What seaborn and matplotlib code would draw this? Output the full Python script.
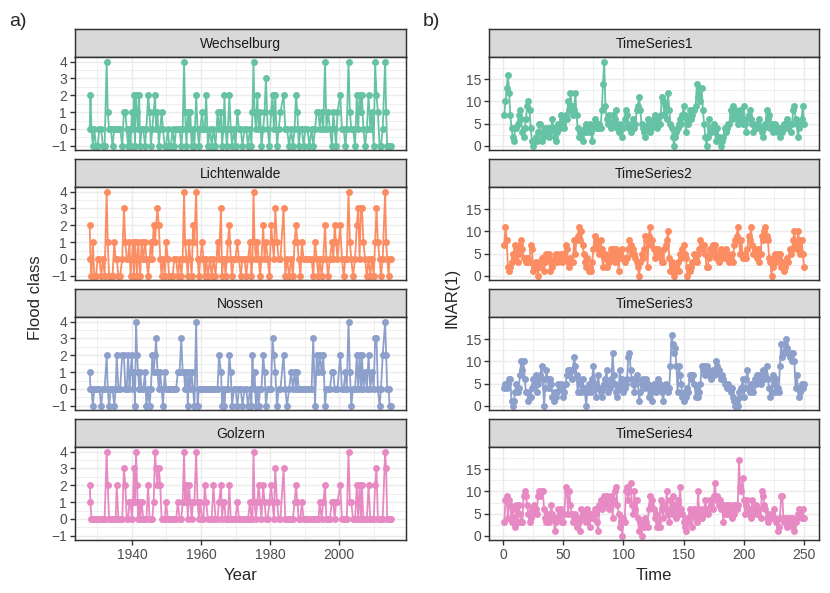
import matplotlib
matplotlib.use("Agg")
import matplotlib.pyplot as plt
from matplotlib.ticker import FixedLocator
import pandas as pd
import seaborn as sns

# ---- panel a): flood classes of events at four Mulde gauges ----
stations = ["Wechselburg", "Lichtenwalde", "Nossen", "Golzern"]

event_year = [
    1927.8, 1928.0, 1928.3, 1928.7, 1929.1, 1929.6, 1930.1, 1930.6, 1931.1, 1931.6,
    1932.1, 1932.7, 1933.0, 1933.4, 1933.9, 1934.4, 1934.9, 1935.3, 1935.6, 1936.1,
    1936.6, 1937.2, 1937.7, 1938.1, 1938.5, 1938.9, 1939.3, 1939.6, 1940.0, 1940.3,
    1940.6, 1940.9, 1941.2, 1941.5, 1941.8, 1942.1, 1942.4, 1942.8, 1943.3, 1943.8,
    1944.2, 1944.7, 1945.1, 1945.5, 1945.9, 1946.3, 1946.7, 1947.0, 1947.4, 1947.8,
    1948.2, 1948.6, 1949.0, 1949.5, 1949.9, 1950.4, 1950.8, 1951.3, 1951.8, 1952.3,
    1952.8, 1953.3, 1953.8, 1954.3, 1954.7, 1955.1, 1955.4, 1955.8, 1956.2, 1956.5,
    1956.9, 1957.3, 1957.7, 1958.1, 1958.6, 1959.0, 1959.4, 1959.8, 1960.3, 1960.7,
    1961.1, 1961.5, 1962.0, 1962.6, 1963.1, 1963.6, 1964.2, 1964.8, 1965.2, 1965.8,
    1966.1, 1966.5, 1966.8, 1967.1, 1967.5, 1967.8, 1968.2, 1968.6, 1969.0, 1969.5,
    1970.0, 1970.5, 1971.0, 1971.5, 1972.0, 1972.6, 1973.1, 1973.6, 1974.2, 1974.6,
    1974.9, 1975.2, 1975.5, 1975.9, 1976.3, 1976.7, 1977.1, 1977.5, 1978.0, 1978.4,
    1978.8, 1979.3, 1979.8, 1980.3, 1980.7, 1981.1, 1981.5, 1982.0, 1982.5, 1983.0,
    1983.9, 1984.4, 1984.9, 1985.5, 1986.1, 1986.6, 1987.1, 1987.5, 1987.9, 1988.3,
    1988.8, 1989.2, 1989.7, 1990.2, 1990.8, 1991.4, 1992.0, 1992.5, 1993.0, 1993.5,
    1994.0, 1994.4, 1994.9, 1995.4, 1995.9, 1996.3, 1996.8, 1997.3, 1997.9, 1998.3,
    1998.7, 1999.1, 1999.5, 2000.3, 2000.8, 2001.3, 2001.8, 2002.2, 2002.7, 2003.1,
    2003.5, 2004.0, 2004.6, 2005.1, 2005.5, 2005.9, 2006.3, 2006.6, 2007.0, 2007.5,
    2008.0, 2008.5, 2009.0, 2009.5, 2010.0, 2010.4, 2010.8, 2011.2, 2011.7, 2012.1,
    2012.6, 2013.3, 2013.6, 2013.9, 2014.3, 2014.6, 2014.9,
]

wechselburg = [
    0, 2, 0, -1, 0, -1, -1, 0, 0, -1,
    -1, 4, 1, 0, 0, -1, 0, 0, 0, 0,
    0, -1, 1, 1, 0, -1, 0, -1, 1, 0,
    2, -1, 2, 1, 0, 2, -1, 0, 0, -1,
    0, 2, 1, -1, 0, 1, 2, 0, 1, -1,
    0, 1, 0, -1, -1, 0, -1, -1, 0, -1,
    0, 0, 0, -1, 0, 4, 1, -1, 1, 0,
    1, -1, 0, -1, 2, 0, -1, 0, 1, 0,
    0, 2, -1, 0, -1, 0, -1, 1, 0, 1,
    -1, 0, 2, 0, -1, 0, 2, 0, -1, 0,
    -1, 1, 0, 0, -1, 0, 0, -1, 0, -1,
    1, 4, 1, 0, 2, 0, 1, -1, 0, 1,
    3, 0, -1, 1, 2, 0, 2, -1, 0, 1,
    2, 0, 0, -1, 0, -1, 0, 2, 1, -1,
    0, 0, -1, 0, 0, -1, 0, -1, 0, 1,
    1, 0, 1, 0, 4, 0, 1, 0, -1, 1,
    0, -1, 1, 2, 0, 0, -1, 0, 4, 1,
    0, 0, -1, 2, 0, 2, 1, 2, 0, -1,
    0, 2, 0, 1, -1, 4, 2, 1, -1, -1,
    0, 4, 1, -1, -1, -1, -1,
]

lichtenwalde = [
    2, 0, -1, 1, -1, -1, 0, 0, -1, 0,
    -1, 4, 1, -1, -1, -1, 1, 0, 0, -1,
    -1, 0, 3, 1, 0, 0, 1, -1, 0, 1,
    -1, 1, 0, -1, 1, 0, -1, 1, 0, 1,
    0, -1, 0, 1, 0, 2, 1, 2, 3, 2,
    0, -1, 0, -1, 1, 0, -1, -1, -1, 0,
    0, -1, 0, -1, 0, 4, 1, 0, -1, 1,
    0, -1, 2, 1, 4, 0, -1, 0, 1, 0,
    -1, 0, -1, 0, -1, 0, -1, 1, 0, 3,
    -1, 0, 0, -1, 0, 1, 2, 0, -1, 0,
    0, 1, 0, -1, 0, 0, -1, 0, 1, -1,
    0, 4, 1, 0, 1, 0, -1, 0, 2, 0,
    1, 0, -1, 2, 1, 0, 3, 1, 0, 0,
    3, -1, 0, -1, 0, -1, 1, 2, 1, 0,
    -1, 1, 0, 0, 0, 0, 0, -1, 1, 0,
    -1, 0, -1, 0, 2, 0, -1, 0, 1, 0,
    2, 1, 0, 2, 0, -1, 0, 0, 4, 1,
    0, -1, 0, 2, 3, 0, 3, 3, 1, 0,
    -1, 0, -1, 0, -1, 1, 3, 1, 0, -1,
    0, 4, 1, 0, -1, 0, 0,
]

nossen = [
    1, 0, 0, -1, 0, 0, 0, 0, -1, 0,
    0, 2, 0, -1, 0, 0, -1, 0, 2, 0,
    0, 2, 2, 0, 0, 2, 0, 1, 2, 0,
    1, -1, 4, 2, 1, 0, 1, 0, 0, 1,
    -1, 0, -1, 0, 2, 1, 2, 3, 1, 0,
    1, 0, -1, 1, 0, 0, 0, 0, 0, 0,
    0, 1, 1, 3, 1, 1, 0, 1, -1, 1,
    0, 1, 0, -1, 4, -1, 0, 0, 0, 0,
    0, 0, 0, 0, 0, 0, 0, 0, 2, 1,
    -1, 0, -1, 0, 0, 0, 2, 1, -1, 0,
    0, -1, 0, 0, -1, 0, 0, -1, 0, -1,
    2, 0, 1, -1, 0, -1, 0, 0, 2, 1,
    -1, 0, 0, 0, 3, 2, 1, -1, 0, 0,
    2, 0, -1, 0, 1, 0, 1, 0, 1, 0,
    0, 0, 0, 0, 0, 0, 0, 3, -1, 2,
    1, 2, 1, 2, -1, 0, 0, 0, 1, 1,
    0, 0, 0, 2, 0, 0, 1, 0, 4, 1,
    -1, 0, 0, 2, 0, 2, 0, 2, 0, 1,
    0, 2, 0, 1, 0, 3, 3, 0, -1, 0,
    2, 4, 2, 0, 0, -1, -1,
]

golzern = [
    2, 1, 0, 0, 0, 0, 0, 0, 0, 0,
    0, 4, 2, 0, 0, 0, 0, 0, 2, 0,
    0, 0, 3, 2, 0, 0, 1, 1, 0, 1,
    3, 1, 4, 2, 0, 1, 0, 1, 0, 0,
    0, 2, 0, 0, 0, 1, 4, 3, 2, 3,
    2, 0, 0, 0, 1, 0, 0, 0, 0, 0,
    0, 1, 0, 0, 1, 4, 1, 2, 0, 2,
    1, 0, 1, 1, 4, 1, 0, 1, 0, 0,
    2, 1, 0, 0, 0, 2, 0, 0, 1, 2,
    0, 1, 1, 0, 0, 0, 2, 0, 0, 0,
    0, 1, 0, 0, 0, 0, 0, 0, 1, 0,
    0, 4, 1, 0, 1, 2, 1, 0, 2, 1,
    0, 0, 1, 2, 1, 0, 3, 1, 0, 0,
    3, 0, 0, 0, 0, 0, 1, 2, 1, 0,
    0, 1, 0, 0, 0, 0, 0, 0, 0, 0,
    0, 1, 0, 1, 2, 0, 0, 0, 1, 1,
    0, 1, 1, 2, 0, 0, 0, 0, 4, 1,
    1, 0, 0, 2, 0, 2, 0, 2, 0, 0,
    0, 2, 0, 0, 0, 2, 3, 0, 0, 0,
    0, 4, 3, 0, 0, 0, 0,
]

# ---- panel b): four simulated INAR(1) series ----
series_names = ["TimeSeries1", "TimeSeries2", "TimeSeries3", "TimeSeries4"]

ts1 = [
    7, 10, 13, 16, 12, 7, 4, 2, 1, 4, 4, 5, 7, 8, 6, 3, 2, 4, 6, 9,
    10, 8, 4, 1, 0, 1, 2, 1, 3, 5, 5, 1, 2, 3, 4, 3, 4, 2, 3, 4,
    6, 4, 2, 1, 3, 5, 4, 7, 6, 5, 4, 7, 6, 10, 8, 12, 9, 7, 8, 12,
    7, 4, 2, 3, 2, 1, 3, 4, 5, 3, 4, 5, 3, 1, 4, 6, 5, 4, 4, 5,
    4, 8, 14, 19, 9, 6, 5, 7, 5, 4, 7, 5, 6, 8, 4, 3, 5, 4, 2, 4,
    6, 8, 7, 5, 4, 3, 5, 6, 4, 5, 8, 9, 11, 8, 5, 4, 3, 2, 4, 6,
    5, 3, 4, 5, 6, 7, 5, 4, 6, 5, 7, 11, 10, 7, 9, 6, 12, 8, 5, 4,
    2, 0, 2, 3, 4, 5, 6, 5, 7, 9, 7, 3, 6, 5, 8, 6, 7, 8, 8, 9,
    14, 11, 13, 10, 13, 8, 5, 2, 0, 2, 6, 4, 3, 4, 5, 3, 1, 4, 2, 1,
    0, 1, 2, 4, 3, 4, 5, 5, 8, 6, 9, 7, 8, 6, 5, 7, 8, 6, 5, 9,
    5, 3, 6, 7, 8, 6, 5, 3, 4, 5, 4, 5, 6, 4, 3, 2, 4, 5, 8, 6,
    7, 4, 5, 3, 4, 5, 4, 3, 4, 2, 4, 3, 5, 4, 5, 6, 4, 5, 3, 5,
    8, 9, 6, 5, 2, 4, 5, 6, 9, 5,
]

ts2 = [
    7, 11, 8, 2, 1, 2, 3, 5, 4, 7, 6, 3, 5, 7, 8, 6, 4, 4, 3,
    3, 4, 3, 7, 6, 1, 2, 3, 2, 0, 2, 3, 4, 4, 1, 3, 5, 4, 5, 1, 3, 2, 3, 4, 5, 3, 4, 5,
    5, 3, 4, 5, 7, 6, 3, 2, 4, 3, 3, 8, 5, 8, 9, 11, 8, 10, 7, 5, 3, 2, 4, 1, 2, 1, 3,
    6, 9, 8, 7, 6, 5, 8, 6, 2, 4, 5, 2, 4, 3, 5, 6, 4, 6, 3, 6, 5, 1, 5, 4, 6, 4, 3, 4,
    4, 6, 8, 7, 5, 6, 5, 4, 3, 2, 0, 3, 5, 4, 6, 9, 8, 2, 9, 11, 7, 8, 6, 4, 6, 5, 6,
    5, 4, 3, 3, 6, 7, 8, 10, 4, 1, 3, 1, 0, 2, 1, 3, 1, 5, 4, 6, 7, 5, 4, 0, 2, 1, 2, 3,
    3, 5, 4, 3, 5, 6, 8, 7, 6, 7, 5, 2, 2, 4, 6, 5, 7, 6, 7, 4, 5, 3, 5, 6, 4, 5, 4,
    6, 4, 5, 3, 4, 5, 3, 7, 8, 9, 11, 8, 5, 8, 4, 4, 5, 4, 6, 9, 8, 11, 7, 5, 6, 5, 4, 6,
    3, 5, 9, 8, 10, 11, 9, 8, 4, 3, 0, 2, 4, 5, 3, 5, 4, 5, 2, 3, 1, 2, 3, 4, 3, 6, 5,
    6, 8, 10, 7, 6, 10, 8, 5, 8, 5, 2,
]

ts3 = [
    4, 5, 4, 5, 6, 6, 1, 0, 1, 3, 5, 3, 4, 7, 10, 8, 10, 6, 3,
    3, 1, 2, 2, 4, 6, 5, 7, 3, 5, 6, 7, 9, 6, 0, 4, 8, 6, 4, 6, 5, 2, 1, 3, 2, 3, 5, 4,
    5, 4, 2, 3, 5, 7, 8, 7, 8, 6, 8, 11, 9, 7, 3, 6, 5, 3, 6, 4, 3, 0, 3, 5, 4, 3, 6,
    9, 5, 2, 4, 7, 4, 3, 2, 4, 5, 6, 8, 3, 5, 4, 6, 12, 7, 5, 3, 2, 4, 8, 5, 6, 3, 4, 5,
    6, 11, 12, 8, 6, 5, 3, 5, 7, 6, 1, 3, 5, 6, 5, 4, 6, 5, 2, 4, 3, 1, 5, 4, 3, 4, 6,
    5, 4, 3, 1, 4, 5, 4, 3, 4, 9, 16, 14, 12, 13, 9, 3, 9, 7, 5, 2, 1, 3, 2, 4, 3, 7, 6, 7,
    7, 5, 2, 4, 2, 3, 5, 9, 8, 9, 7, 9, 8, 7, 7, 6, 8, 7, 8, 10, 9, 8, 7, 6, 7, 6, 5,
    5, 4, 5, 4, 3, 4, 2, 1, 0, 1, 0, 3, 2, 4, 6, 2, 4, 6, 8, 4, 3, 5, 4, 3, 6, 5, 7, 6,
    7, 5, 6, 8, 6, 7, 9, 6, 4, 2, 3, 7, 5, 3, 6, 4, 3, 9, 14, 11, 12, 14, 15, 13, 12, 11, 12,
    10, 12, 10, 4, 7, 4, 2, 3, 5, 4, 5,
]

ts4 = [
    3, 8, 9, 4, 8, 7, 3, 6, 4, 2, 7, 3, 7, 5, 3, 3, 9, 10, 9,
    7, 5, 3, 4, 6, 5, 7, 6, 5, 9, 10, 9, 10, 10, 6, 4, 3, 5, 3, 4, 7, 5, 4, 1, 3, 4, 6, 5,
    6, 3, 3, 5, 11, 10, 5, 10, 7, 5, 3, 4, 5, 2, 4, 3, 1, 6, 5, 4, 5, 3, 6, 5, 2, 5, 4,
    4, 6, 5, 3, 1, 7, 8, 6, 7, 9, 8, 9, 7, 6, 8, 9, 4, 8, 10, 11, 7, 5, 2, 3, 0, 4, 3, 10,
    11, 8, 10, 12, 7, 5, 10, 6, 8, 4, 1, 3, 0, 3, 2, 4, 3, 2, 6, 9, 7, 8, 6, 4, 5, 2, 3,
    2, 8, 6, 4, 7, 6, 10, 5, 3, 8, 5, 9, 7, 6, 4, 8, 5, 11, 6, 5, 3, 2, 1, 4, 3, 6, 5, 2,
    5, 6, 4, 3, 10, 5, 6, 4, 5, 6, 8, 6, 5, 6, 8, 7, 6, 9, 12, 8, 9, 7, 8, 6, 7, 3, 7,
    5, 7, 5, 7, 6, 4, 7, 5, 7, 6, 7, 17, 11, 10, 13, 8, 5, 7, 8, 6, 5, 4, 8, 5, 6, 7, 5, 6,
    6, 4, 10, 9, 7, 6, 4, 3, 5, 4, 5, 4, 6, 4, 3, 1, 2, 4, 9, 9, 3, 4, 3, 2, 4, 3, 4,
    4, 2, 1, 3, 4, 5, 6, 5, 4, 6, 4,
]

flood = pd.DataFrame({"Year": event_year, "Wechselburg": wechselburg,
                      "Lichtenwalde": lichtenwalde, "Nossen": nossen,
                      "Golzern": golzern})
inar = {name: pd.DataFrame({"Time": range(1, len(v) + 1), "INAR(1)": v})
        for name, v in zip(series_names, [ts1, ts2, ts3, ts4])}

sns.set_theme(style="white")
plt.rcParams["font.family"] = ["Liberation Sans", "DejaVu Sans"]
plt.rcParams["axes.unicode_minus"] = True

colors = sns.color_palette("Set2", 4)
W, H = 830, 593
fig = plt.figure(figsize=(W / 100, H / 100), dpi=100)


def px_axes(x0, y0, x1, y1):
    return fig.add_axes([x0 / W, 1 - y1 / H, (x1 - x0) / W, (y1 - y0) / H])


strip_h = 28
panel_h = 92.7
tops = [29.3, 159.3, 289.3, 419.3]
tick_size = 10


def facet(x0, x1, top, title, data, xcol, ycol, color, xlim, ylim,
          xmaj, xmin, ymaj, ymin, bottom):
    strip = px_axes(x0, top, x1, top + strip_h)
    strip.set_facecolor("#D9D9D9")
    strip.set_xticks([])
    strip.set_yticks([])
    for s in strip.spines.values():
        s.set_color("#333333")
        s.set_linewidth(1.07)
    strip.text(0.5, 0.48, title, ha="center", va="center", fontsize=10,
               color="#1A1A1A", transform=strip.transAxes)

    ax = px_axes(x0, top + strip_h, x1, top + strip_h + panel_h)
    ax.set_facecolor("white")
    sns.lineplot(data=data, x=xcol, y=ycol, ax=ax, color=color, marker="o",
                 markersize=5.0, markeredgewidth=0, linewidth=1.3,
                 estimator=None, sort=False)
    ax.set_xlim(*xlim)
    ax.set_ylim(*ylim)
    ax.xaxis.set_major_locator(FixedLocator(xmaj))
    ax.xaxis.set_minor_locator(FixedLocator(xmin))
    ax.yaxis.set_major_locator(FixedLocator(ymaj))
    ax.yaxis.set_minor_locator(FixedLocator(ymin))
    ax.grid(which="major", color="#EBEBEB", linewidth=1.07)
    ax.grid(which="minor", color="#EBEBEB", linewidth=0.55)
    ax.set_axisbelow(True)
    for s in ax.spines.values():
        s.set_color("#333333")
        s.set_linewidth(1.07)
    ax.tick_params(which="minor", length=0)
    ax.tick_params(axis="y", which="major", length=3.5, width=1.0,
                   color="#333333", labelsize=tick_size, labelcolor="#4D4D4D",
                   left=True, pad=2)
    if bottom:
        ax.tick_params(axis="x", which="major", length=3.5, width=1.0,
                       color="#333333", labelsize=tick_size, labelcolor="#4D4D4D",
                       bottom=True, pad=2)
    else:
        ax.tick_params(axis="x", which="major", bottom=False, labelbottom=False)
    ax.set_xlabel("")
    ax.set_ylabel("")
    return ax


# left column
lx0, lx1 = 74.7, 405.7
span = max(event_year) - min(event_year)
left_xlim = (min(event_year) - 0.05 * span, max(event_year) + 0.05 * span)
for i, (name, top) in enumerate(zip(stations, tops)):
    facet(lx0, lx1, top, name, flood, "Year", name, colors[i], left_xlim,
          (-1.25, 4.25), [1940, 1960, 1980, 2000], [1930, 1950, 1970, 1990, 2010],
          [-1, 0, 1, 2, 3, 4], [-0.5, 0.5, 1.5, 2.5, 3.5], i == 3)

# right column
rx0, rx1 = 489.3, 819.0
n = len(ts1)
right_xlim = (1 - 0.05 * (n - 1), n + 0.05 * (n - 1))
for i, (name, top) in enumerate(zip(series_names, tops)):
    facet(rx0, rx1, top, name, inar[name], "Time", "INAR(1)", colors[i],
          right_xlim, (-0.95, 19.95), [0, 50, 100, 150, 200, 250],
          [25, 75, 125, 175, 225], [0, 5, 10, 15], [2.5, 7.5, 12.5, 17.5], i == 3)

# axis titles and panel tags
fig.text(35 / W, 1 - 298 / H, "Flood class", rotation=90, ha="center",
         va="center", fontsize=12)
fig.text(452 / W, 1 - 298 / H, "INAR(1)", rotation=90, ha="center",
         va="center", fontsize=12)
fig.text((lx0 + lx1) / 2 / W, 1 - 575 / H, "Year", ha="center", va="center",
         fontsize=12)
fig.text((rx0 + rx1) / 2 / W, 1 - 575 / H, "Time", ha="center", va="center",
         fontsize=12)
fig.text(9 / W, 1 - 21 / H, "a)", ha="left", va="center", fontsize=14)
fig.text(423 / W, 1 - 21 / H, "b)", ha="left", va="center", fontsize=14)

fig.savefig("out.png", dpi=100)
